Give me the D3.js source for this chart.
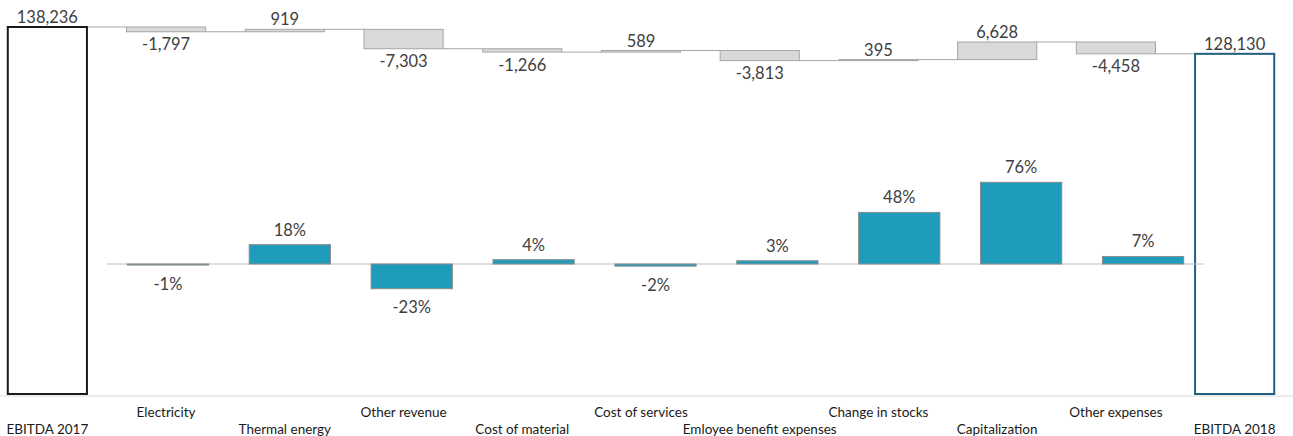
<!DOCTYPE html>
<html>
<head>
<meta charset="utf-8">
<script src="https://cdn.jsdelivr.net/npm/d3@7/dist/d3.min.js"></script>
<style>
  html, body { margin: 0; padding: 0; background: #fff; }
  svg { display: block; font-family: Lato, "Open Sans", sans-serif; }
</style>
</head>
<body>
<svg id="chart" width="1293" height="436"></svg>
<script>
// EBITDA bridge 2017 -> 2018 with year-on-year change of each component
const categories = ["EBITDA 2017", "Electricity", "Thermal energy", "Other revenue",
  "Cost of material", "Cost of services", "Emloyee benefit expenses",
  "Change in stocks", "Capitalization", "Other expenses", "EBITDA 2018"];
const startValue = 138236;
const endValue = 128130;
const changes = [-1797, 919, -7303, -1266, 589, -3813, 395, 6628, -4458];
const changeCategories = categories.slice(1, 10);
const percentChanges = [-1, 18, -23, 4, -2, 3, 48, 76, 7];

const svg = d3.select("#chart");

// ---- scales ----
const x = d3.scaleBand().domain(categories).range([-12, 1294])
  .paddingInner(1 / 3).paddingOuter(1 / 6);
const y = d3.scaleLinear().domain([0, startValue]).range([394, 27]);

const xp = d3.scaleBand().domain(changeCategories).range([107, 1204])
  .paddingInner(1 / 3).paddingOuter(1 / 6);
const yp = d3.scaleLinear().domain([-100, 100]).range([264 + 107.5, 264 - 107.5]);

// thousands separator with a plain hyphen for negatives
const locale = d3.formatLocale({ decimal: ".", thousands: ",", grouping: [3], currency: ["", ""], minus: "-" });
const fmt = locale.format(",");
const textColor = "#404040";

// ---- waterfall steps ----
let running = startValue;
const steps = changes.map((v, i) => {
  const from = running;
  running += v;
  return { cat: changeCategories[i], value: v, from, to: running };
});

// connector lines between consecutive columns
const levels = [startValue, ...steps.map(s => s.to)];
const connectors = levels.map((lv, i) => ({ a: categories[i], b: categories[i + 1], level: lv }));
svg.append("g").selectAll("line").data(connectors).join("line")
  .attr("x1", d => x(d.a) + x.bandwidth())
  .attr("x2", d => x(d.b))
  .attr("y1", d => y(d.level)).attr("y2", d => y(d.level))
  .attr("stroke", "#a6a6a6").attr("stroke-width", 1);

// change columns
svg.append("g").selectAll("rect").data(steps).join("rect")
  .attr("x", d => x(d.cat))
  .attr("width", x.bandwidth())
  .attr("y", d => y(Math.max(d.from, d.to)))
  .attr("height", d => Math.max(1, Math.abs(y(d.from) - y(d.to))))
  .attr("fill", "#d9d9d9")
  .attr("stroke", "#a6a6a6").attr("stroke-width", 1);

svg.append("g").selectAll("text").data(steps).join("text")
  .attr("x", d => x(d.cat) + x.bandwidth() / 2)
  .attr("y", d => d.value >= 0 ? y(d.to) - 4 : y(d.to) + 18.5)
  .attr("text-anchor", "middle")
  .attr("font-size", 16.5).attr("fill", textColor)
  .text(d => fmt(d.value));

// total columns (outlined)
const totals = [
  { cat: categories[0], value: startValue, stroke: "#1a1a1a" },
  { cat: categories[10], value: endValue, stroke: "#1f5f7f" }
];
svg.append("g").selectAll("rect").data(totals).join("rect")
  .attr("x", d => x(d.cat))
  .attr("width", x.bandwidth())
  .attr("y", d => y(d.value))
  .attr("height", d => y(0) - y(d.value))
  .attr("fill", "none")
  .attr("stroke", d => d.stroke).attr("stroke-width", 2);

svg.append("g").selectAll("text").data(totals).join("text")
  .attr("x", d => x(d.cat) + x.bandwidth() / 2)
  .attr("y", d => y(d.value) - 4)
  .attr("text-anchor", "middle")
  .attr("font-size", 16.5).attr("fill", textColor)
  .text(d => fmt(d.value));

// ---- percentage change columns ----
svg.append("line")
  .attr("x1", xp.range()[0]).attr("x2", xp.range()[1])
  .attr("y1", yp(0)).attr("y2", yp(0))
  .attr("stroke", "#bfbfbf").attr("stroke-width", 1);

const pdata = percentChanges.map((v, i) => ({ cat: changeCategories[i], value: v }));
svg.append("g").selectAll("rect").data(pdata).join("rect")
  .attr("x", d => xp(d.cat))
  .attr("width", xp.bandwidth())
  .attr("y", d => yp(Math.max(0, d.value)))
  .attr("height", d => Math.max(1, Math.abs(yp(d.value) - yp(0))))
  .attr("fill", "#1f9bbb")
  .attr("stroke", "#8c8c8c").attr("stroke-width", 1);

svg.append("g").selectAll("text").data(pdata).join("text")
  .attr("x", d => xp(d.cat) + xp.bandwidth() / 2)
  .attr("y", d => d.value >= 0 ? yp(d.value) - 9 : yp(d.value) + 24.5)
  .attr("text-anchor", "middle")
  .attr("font-size", 16.5).attr("fill", textColor)
  .text(d => fmt(d.value) + "%");

// ---- category axis with staggered labels ----
const axis = svg.append("g")
  .attr("transform", "translate(0,395.5)")
  .call(d3.axisBottom(x).tickSize(0).tickSizeOuter(0));
axis.select(".domain").attr("stroke", "#d9d9d9");
axis.selectAll(".tick text")
  .attr("font-family", "Lato, 'Open Sans', sans-serif")
  .attr("font-size", 13.5)
  .attr("fill", "#1a1a1a")
  .attr("dy", null)
  .attr("y", (d, i) => i % 2 === 0 ? 38 : 21);
</script>
</body>
</html>
